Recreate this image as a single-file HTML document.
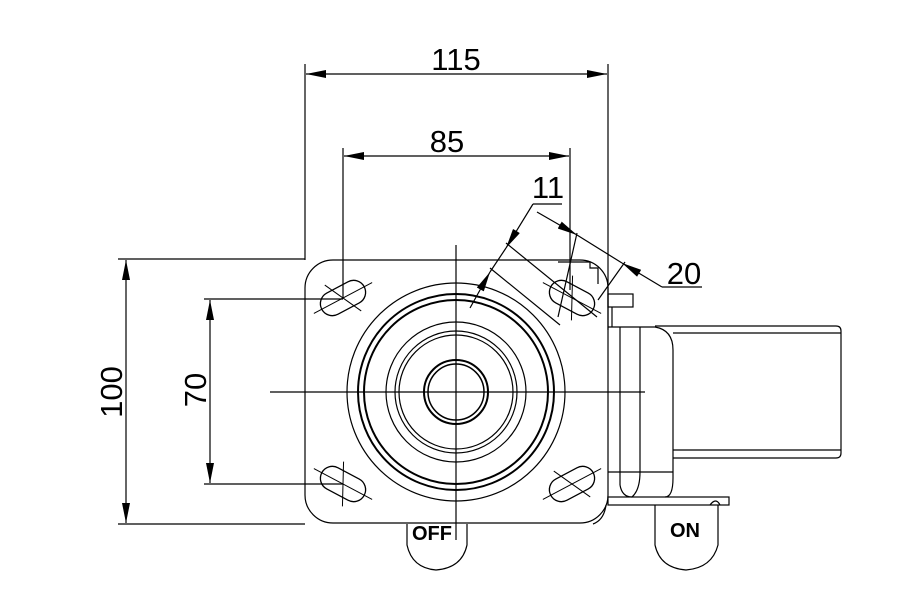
<!DOCTYPE html>
<html><head><meta charset="utf-8"><style>html,body{margin:0;padding:0;background:#fff}svg{display:block}</style></head>
<body>
<svg width="921" height="615" viewBox="0 0 921 615" xmlns="http://www.w3.org/2000/svg">
<defs>
<marker id="a" viewBox="0 0 20 8" refX="20" refY="4" markerWidth="20" markerHeight="8" markerUnits="userSpaceOnUse" orient="auto-start-reverse"><path d="M0,0 L20,4 L0,8 z" fill="#000"/></marker>
<g id="slot"><rect x="-24" y="-12" width="48" height="24" rx="12" fill="none" stroke="#000" stroke-width="1.3"/><line x1="-33" y1="0" x2="33" y2="0" stroke="#000"/><line x1="-10" y1="-20" x2="10" y2="20" stroke="#000"/></g>
</defs>
<g stroke="#000" fill="none" stroke-width="1.2">
<line x1="305" y1="64" x2="305" y2="260"/>
<line x1="608" y1="64" x2="608" y2="330"/>
<line x1="343" y1="148" x2="343" y2="298"/>
<line x1="570" y1="148" x2="570" y2="290"/>
<line x1="118" y1="259" x2="305" y2="259"/>
<line x1="118" y1="524" x2="305" y2="524"/>
<line x1="204" y1="299" x2="343" y2="299"/>
<line x1="204" y1="484" x2="343" y2="484"/>
<line x1="306" y1="74" x2="607" y2="74" marker-start="url(#a)" marker-end="url(#a)"/>
<line x1="344" y1="156" x2="569" y2="156" marker-start="url(#a)" marker-end="url(#a)"/>
<line x1="126" y1="260" x2="126" y2="523" marker-start="url(#a)" marker-end="url(#a)"/>
<line x1="210" y1="300" x2="210" y2="483" marker-start="url(#a)" marker-end="url(#a)"/>
<!-- 11 -->
<line x1="562" y1="204" x2="533" y2="204"/>
<line x1="533" y1="204" x2="506" y2="248" marker-end="url(#a)"/>
<line x1="506" y1="248" x2="490" y2="272"/>
<line x1="470" y1="308" x2="490" y2="272" marker-end="url(#a)"/>
<line x1="506" y1="243" x2="597" y2="317"/>
<line x1="490" y1="268" x2="560" y2="325"/>
<!-- 20 -->
<line x1="537" y1="212" x2="577" y2="235" marker-end="url(#a)"/>
<line x1="577" y1="235" x2="622" y2="263"/>
<line x1="702" y1="287" x2="662" y2="287"/>
<line x1="662" y1="287" x2="622" y2="263" marker-end="url(#a)"/>
<line x1="577" y1="233" x2="558" y2="317"/>
<line x1="625" y1="262" x2="598" y2="300"/>
<!-- plate -->
<rect x="305" y="260" width="303" height="263" rx="28"/>
<line x1="270" y1="392" x2="645" y2="392"/>
<line x1="456" y1="245" x2="456" y2="540"/>
<circle cx="456" cy="392" r="109"/>
<circle cx="456" cy="392" r="98" stroke-width="2"/>
<circle cx="456" cy="392" r="92" stroke-width="2"/>
<circle cx="456" cy="392" r="70"/>
<circle cx="456" cy="392" r="61"/>
<circle cx="456" cy="392" r="57"/>
<circle cx="456" cy="392" r="32" stroke-width="2"/>
<circle cx="456" cy="392" r="28" stroke-width="1.5"/>
<!-- bracket -->
<rect x="608" y="294" width="25" height="13"/>
<line x1="612" y1="307" x2="612" y2="327"/>
<path d="M608,327 H655 Q673,330 673,350 V478 Q673,497 665,497"/>
<line x1="620" y1="327" x2="620" y2="485"/>
<line x1="640" y1="327" x2="640" y2="472"/>
<path d="M620,485 Q622,497 632,497 Q640,490 640,472"/>
<line x1="608" y1="472" x2="673" y2="472"/>
<path d="M655,326 H836 Q841,326 841,331 V453 Q841,458 836,458 H673"/>
<line x1="673" y1="333" x2="841" y2="333"/>
<line x1="673" y1="450" x2="841" y2="450"/>
<rect x="608" y="497" width="121" height="8"/>
<path d="M558,262 H590 V268 H598 V284"/>
<path d="M407,524 V545 Q412,568 436,570 Q462,568 467,545 V524"/>
<path d="M655,505 V545 Q660,568 686,570 Q712,568 718,545 V505"/>
<path d="M710,505 Q716,497 720,505"/>
<path d="M593,524 Q604,520 606,505"/>
</g>
<use href="#slot" transform="translate(343,298) rotate(-28)"/>
<use href="#slot" transform="translate(343,484) rotate(28)"/>
<use href="#slot" transform="translate(572,298) rotate(28)"/>
<use href="#slot" transform="translate(572,484) rotate(-28)"/>
<g font-family="Liberation Sans, sans-serif" font-size="31" fill="#000" text-anchor="middle">
<text x="456" y="70">115</text>
<text x="447" y="152">85</text>
<text x="548" y="198">11</text>
<text x="684" y="284">20</text>
<text transform="translate(122,392) rotate(-90)">100</text>
<text transform="translate(206,390) rotate(-90)">70</text>
<text x="432" y="540" font-size="20" font-weight="bold">OFF</text>
<text x="685" y="537" font-size="20" font-weight="bold">ON</text>
</g>
</svg>
</body></html>
